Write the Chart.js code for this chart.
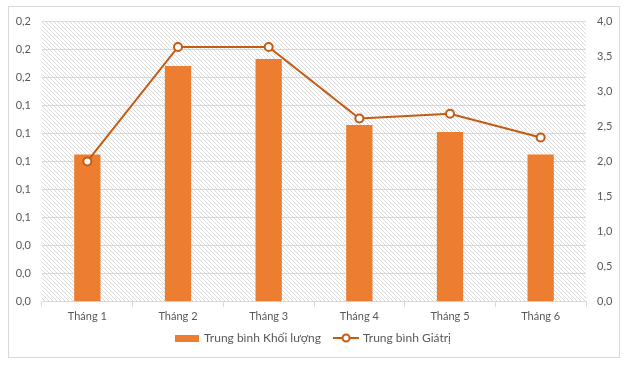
<!DOCTYPE html>
<html>
<head>
<meta charset="utf-8">
<script src="https://cdn.jsdelivr.net/npm/chart.js@4"></script>
<style>
  body { margin: 0; background: #fff; }
  #wrap { width: 640px; height: 374px; }
</style>
</head>
<body>
<div id="wrap"><canvas id="chart" width="640" height="374"></canvas></div>
<script>
// data
var months = ['Tháng 1', 'Tháng 2', 'Tháng 3', 'Tháng 4', 'Tháng 5', 'Tháng 6'];
var khoiLuong = [0.105, 0.168, 0.173, 0.126, 0.121, 0.105];
var giaTri = [2.0, 3.63, 3.63, 2.61, 2.68, 2.34];
var leftTicks = [0, 0.2, 0.02];
var rightTicks = [0, 4, 0.5];

var orange = '#ED7D31';
var darkOrange = '#C55A11';
var grey = '#595959';

function fmt(v) { return v.toFixed(1).replace('.', ','); }

// hatch pattern for plot area
var pc = document.createElement('canvas');
pc.width = 4; pc.height = 4;
var p = pc.getContext('2d');
p.fillStyle = '#fff';
p.fillRect(0, 0, 4, 4);
p.strokeStyle = '#dadada';
p.lineWidth = 1;
p.beginPath();
p.moveTo(-1, -1); p.lineTo(5, 5);
p.moveTo(-1, 3); p.lineTo(1, 5);
p.moveTo(3, -1); p.lineTo(5, 1);
p.stroke();

// legend icons
function barIcon() {
  var c = document.createElement('canvas');
  c.width = 24; c.height = 7;
  var g = c.getContext('2d');
  g.fillStyle = orange;
  g.fillRect(0, 0, 24, 7);
  return c;
}
function lineIcon() {
  var c = document.createElement('canvas');
  c.width = 26; c.height = 10;
  var g = c.getContext('2d');
  g.strokeStyle = darkOrange;
  g.lineWidth = 2;
  g.beginPath(); g.moveTo(0, 5); g.lineTo(26, 5); g.stroke();
  g.beginPath(); g.arc(13, 5, 3.5, 0, Math.PI * 2);
  g.fillStyle = '#fff'; g.fill(); g.stroke();
  return c;
}
var icons = [lineIcon(), barIcon()];

var bgPlugin = {
  id: 'bg',
  afterLayout: function(chart) {
    // pull the legend up a bit, its padding is only wanted between items
    chart.legend.top -= 8;
    chart.legend.bottom -= 8;
  },
  beforeDraw: function(chart) {
    var ctx = chart.ctx, a = chart.chartArea;
    ctx.save();
    ctx.fillStyle = '#fff';
    ctx.fillRect(0, 0, chart.width, chart.height);
    ctx.strokeStyle = '#d9d9d9';
    ctx.lineWidth = 1;
    ctx.strokeRect(8.5, 6.5, 611, 351);
    ctx.fillStyle = ctx.createPattern(pc, 'repeat');
    ctx.fillRect(a.left, a.top, a.right - a.left, a.bottom - a.top);
    ctx.restore();
  }
};

var ctx = document.getElementById('chart').getContext('2d');
var chart = new Chart(ctx, {
  type: 'bar',
  data: {
    labels: months,
    datasets: [{
      type: 'line',
      label: 'Trung bình Giátrị',
      data: giaTri,
      yAxisID: 'y1',
      borderColor: darkOrange,
      borderWidth: 2,
      pointRadius: 4,
      pointBorderWidth: 2,
      pointBackgroundColor: '#fff',
      pointBorderColor: darkOrange,
      tension: 0,
      order: 1
    }, {
      label: 'Trung bình Khối lượng',
      data: khoiLuong,
      yAxisID: 'y',
      backgroundColor: orange,
      categoryPercentage: 1,
      barPercentage: 0.29,
      order: 2
    }]
  },
  options: {
    responsive: false,
    animation: false,
    layout: { padding: { left: 8, right: 21, top: 21, bottom: 12 } },
    plugins: {
      tooltip: { enabled: false },
      legend: {
        position: 'bottom',
        reverse: true,
        labels: {
          usePointStyle: true,
          pointStyleWidth: 22,
          color: grey,
          font: { family: 'Lato', size: 12 },
          padding: 14,
          generateLabels: function(chart) {
            var items = Chart.defaults.plugins.legend.labels.generateLabels(chart);
            items.forEach(function(it) { it.pointStyle = icons[it.datasetIndex]; });
            return items;
          }
        }
      }
    },
    scales: {
      x: {
        offset: true,
        grid: { offset: true, drawOnChartArea: false, color: '#d9d9d9', tickLength: 5 },
        border: { color: '#d9d9d9' },
        ticks: { color: grey, font: { family: 'Lato', size: 11 }, padding: 3 }
      },
      y: {
        position: 'left',
        min: leftTicks[0], max: leftTicks[1],
        afterFit: function(s) { s.width = 34; },
        grid: { color: '#d9d9d9', drawTicks: false },
        border: { display: false },
        ticks: { stepSize: leftTicks[2], color: grey, font: { family: 'Lato', size: 11 }, padding: 11,
          callback: function(v) { return fmt(v); } }
      },
      y1: {
        position: 'right',
        min: rightTicks[0], max: rightTicks[1],
        afterFit: function(s) { s.width = 33; },
        grid: { display: false, drawTicks: false },
        border: { display: false },
        ticks: { stepSize: rightTicks[2], color: grey, font: { family: 'Lato', size: 11 }, padding: 11,
          callback: function(v) { return fmt(v); } }
      }
    }
  },
  plugins: [bgPlugin]
});
</script>
</body>
</html>
